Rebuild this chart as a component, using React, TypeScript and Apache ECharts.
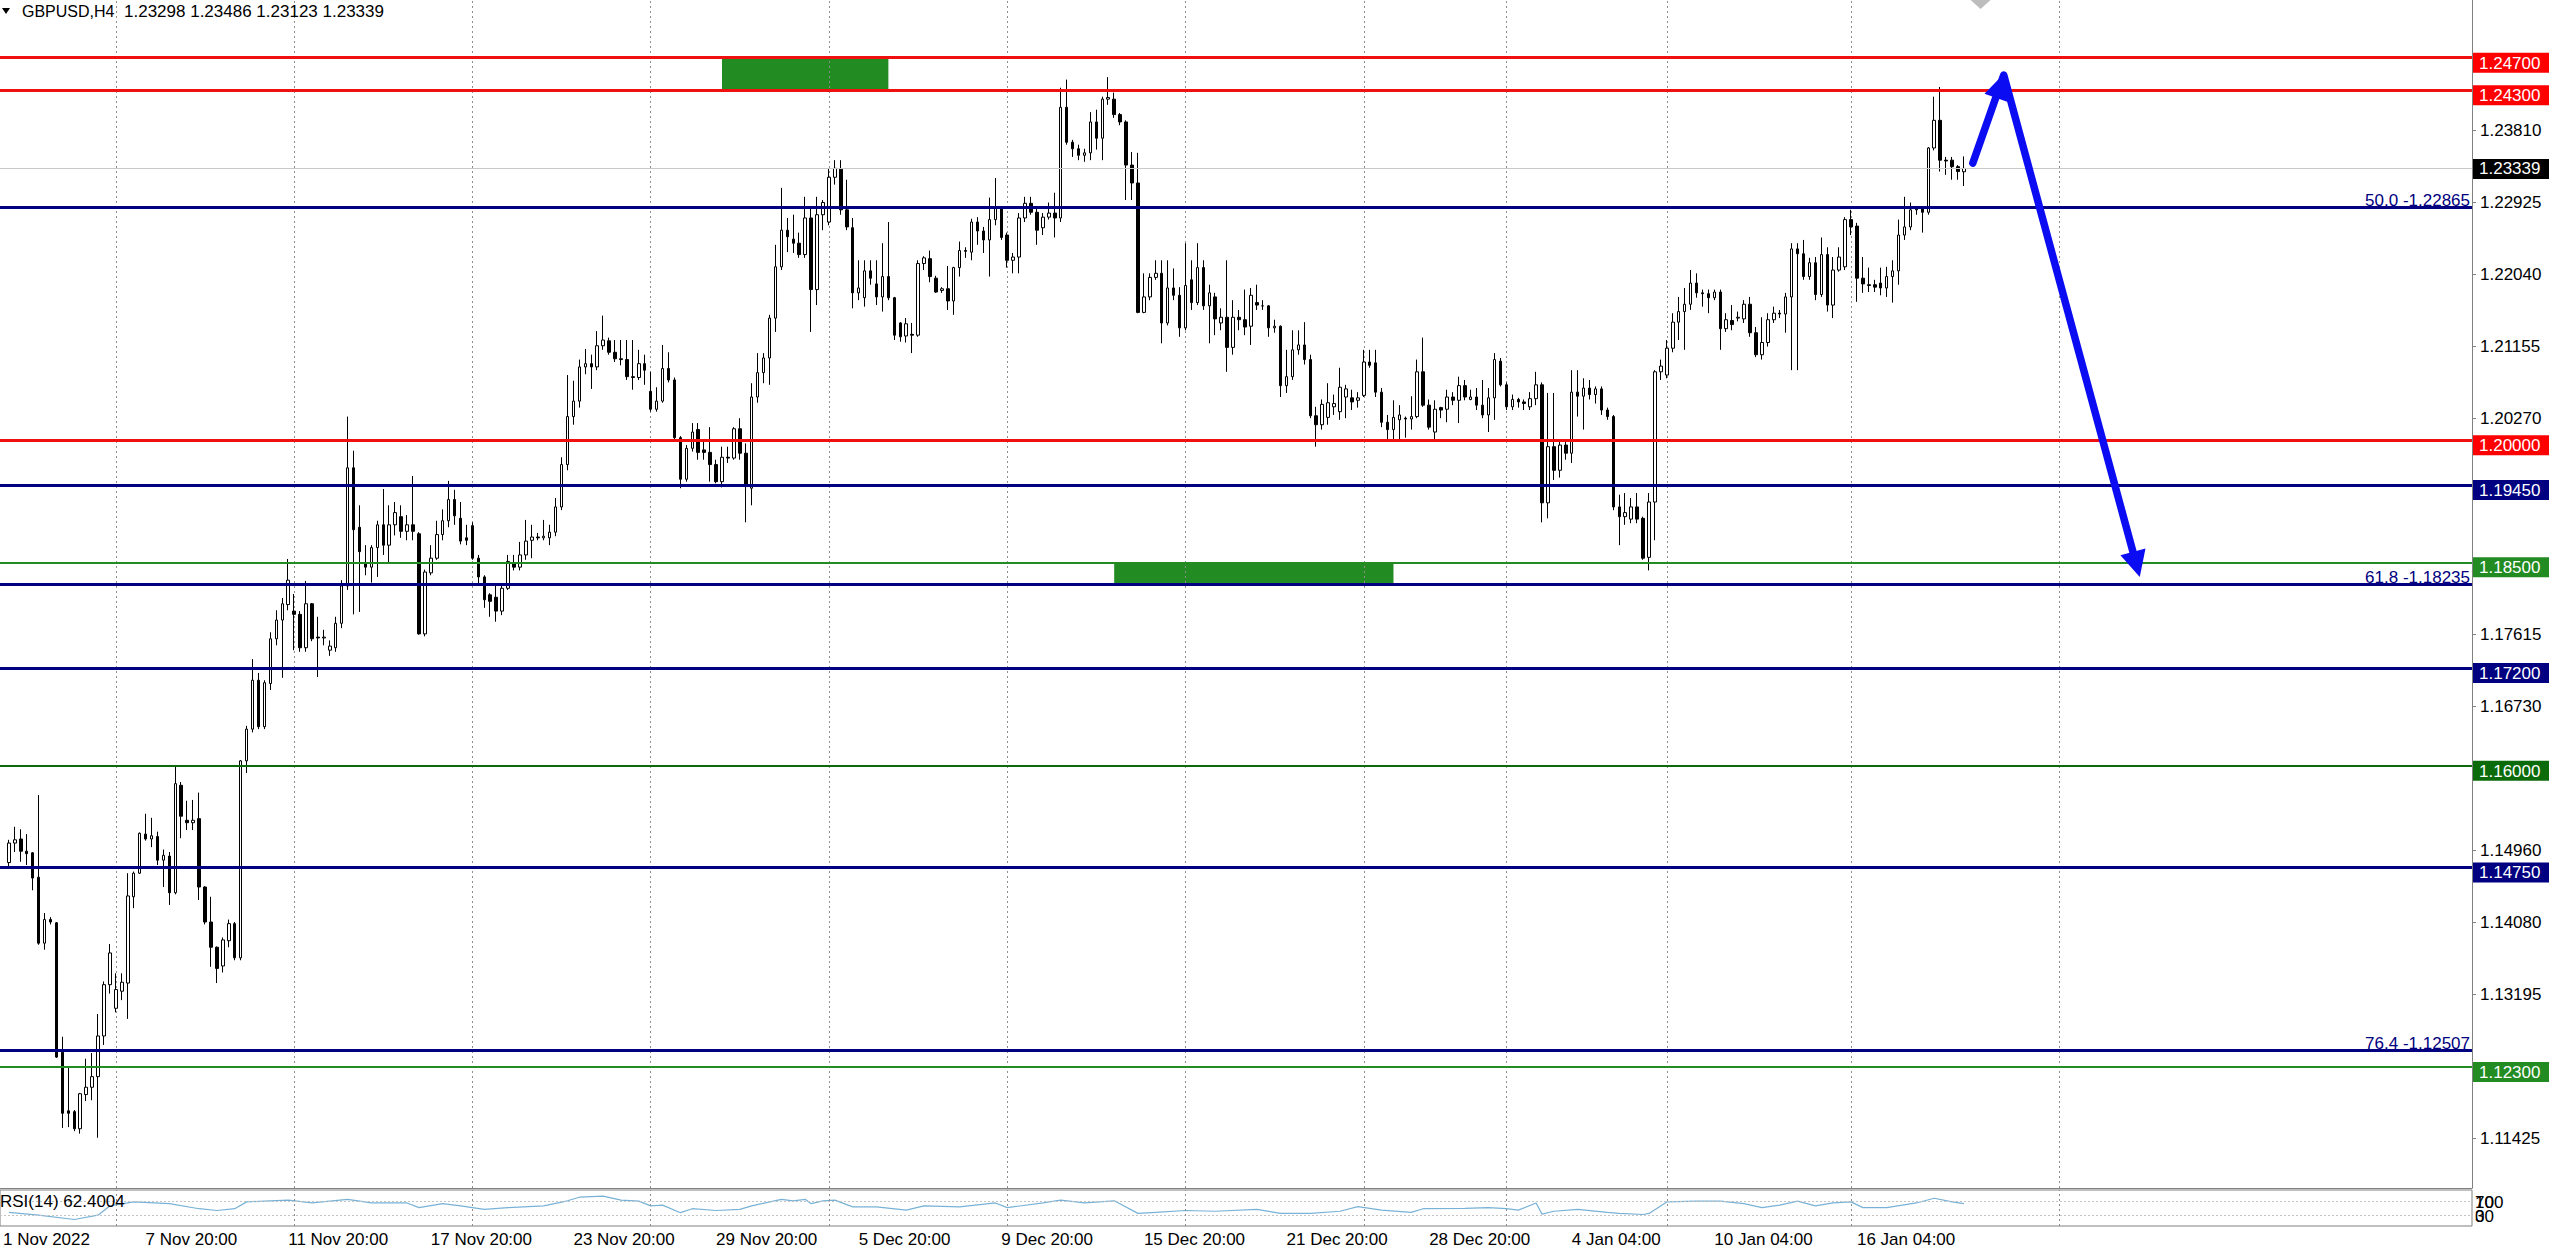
import React, { useEffect, useRef } from 'react';
import * as echarts from 'echarts';

const FONT = "'Liberation Sans', Arial, Helvetica, sans-serif";

const symbolTitle = 'GBPUSD,H4';
const lastBarQuote = '1.23298 1.23486 1.23123 1.23339';
const rsiTitle = 'RSI(14) 62.4004';

// H4 bars: [open, high, low, close]
const bars: [number, number, number, number][] = [
  [1.1481, 1.1509, 1.1476, 1.1505], [1.1505, 1.1525, 1.1494, 1.1509], [1.1510, 1.1522, 1.1482, 1.1495], [1.1495, 1.1516, 1.1478, 1.1492],
  [1.1493, 1.1494, 1.1447, 1.1462], [1.1463, 1.1564, 1.1380, 1.1382], [1.1382, 1.1419, 1.1374, 1.1411], [1.1411, 1.1414, 1.1405, 1.1408],
  [1.1407, 1.1408, 1.1241, 1.1242], [1.1248, 1.1267, 1.1155, 1.1173], [1.1176, 1.1229, 1.1156, 1.1173], [1.1175, 1.1177, 1.1151, 1.1154],
  [1.1154, 1.1198, 1.1148, 1.1197], [1.1196, 1.1240, 1.1188, 1.1205], [1.1205, 1.1247, 1.1189, 1.1218], [1.1218, 1.1295, 1.1143, 1.1268],
  [1.1268, 1.1335, 1.1257, 1.1331], [1.1331, 1.1381, 1.1320, 1.1370], [1.1302, 1.1345, 1.1297, 1.1325], [1.1323, 1.1345, 1.1312, 1.1334],
  [1.1333, 1.1468, 1.1289, 1.1440], [1.1439, 1.1470, 1.1425, 1.1468], [1.1468, 1.1518, 1.1467, 1.1517], [1.1516, 1.1541, 1.1508, 1.1510],
  [1.1510, 1.1536, 1.1500, 1.1514], [1.1513, 1.1519, 1.1478, 1.1484], [1.1484, 1.1497, 1.1451, 1.1490], [1.1489, 1.1494, 1.1429, 1.1444],
  [1.1444, 1.1600, 1.1442, 1.1578], [1.1576, 1.1580, 1.1511, 1.1538], [1.1533, 1.1557, 1.1521, 1.1530], [1.1530, 1.1558, 1.1521, 1.1533],
  [1.1535, 1.1567, 1.1435, 1.1451], [1.1451, 1.1452, 1.1405, 1.1408], [1.1408, 1.1439, 1.1353, 1.1377], [1.1377, 1.1378, 1.1333, 1.1351],
  [1.1354, 1.1389, 1.1346, 1.1386], [1.1385, 1.1411, 1.1377, 1.1406], [1.1406, 1.1408, 1.1361, 1.1364], [1.1364, 1.1607, 1.1361, 1.1606],
  [1.1606, 1.1649, 1.1591, 1.1645], [1.1645, 1.1731, 1.1641, 1.1705], [1.1705, 1.1714, 1.1645, 1.1648], [1.1648, 1.1705, 1.1645, 1.1702],
  [1.1701, 1.1764, 1.1693, 1.1756], [1.1756, 1.1791, 1.1748, 1.1779], [1.1779, 1.1806, 1.1708, 1.1799], [1.1798, 1.1854, 1.1791, 1.1828],
  [1.1790, 1.1811, 1.1742, 1.1786], [1.1786, 1.1790, 1.1740, 1.1745], [1.1745, 1.1827, 1.1740, 1.1799], [1.1799, 1.1800, 1.1753, 1.1756],
  [1.1758, 1.1783, 1.1709, 1.1757], [1.1757, 1.1767, 1.1748, 1.1758], [1.1742, 1.1754, 1.1735, 1.1747], [1.1745, 1.1783, 1.1740, 1.1775],
  [1.1775, 1.1828, 1.1769, 1.1821], [1.1821, 1.2029, 1.1816, 1.1966], [1.1966, 1.1987, 1.1786, 1.1890], [1.1893, 1.1920, 1.1789, 1.1863],
  [1.1849, 1.1871, 1.1834, 1.1844], [1.1844, 1.1871, 1.1825, 1.1868], [1.1868, 1.1901, 1.1832, 1.1896], [1.1896, 1.1940, 1.1859, 1.1871],
  [1.1871, 1.1920, 1.1850, 1.1896], [1.1896, 1.1924, 1.1883, 1.1911], [1.1906, 1.1920, 1.1880, 1.1888], [1.1888, 1.1908, 1.1877, 1.1896],
  [1.1896, 1.1956, 1.1877, 1.1888], [1.1885, 1.1887, 1.1761, 1.1762], [1.1762, 1.1841, 1.1759, 1.1838], [1.1837, 1.1871, 1.1834, 1.1855],
  [1.1855, 1.1901, 1.1853, 1.1884], [1.1884, 1.1915, 1.1877, 1.1901], [1.1901, 1.1950, 1.1893, 1.1927], [1.1927, 1.1939, 1.1896, 1.1907],
  [1.1904, 1.1924, 1.1872, 1.1876], [1.1880, 1.1896, 1.1871, 1.1877], [1.1895, 1.1899, 1.1853, 1.1855], [1.1855, 1.1859, 1.1822, 1.1832],
  [1.1832, 1.1834, 1.1794, 1.1804], [1.1810, 1.1812, 1.1783, 1.1802], [1.1807, 1.1824, 1.1777, 1.1790], [1.1790, 1.1822, 1.1785, 1.1818],
  [1.1818, 1.1859, 1.1816, 1.1851], [1.1849, 1.1859, 1.1840, 1.1844], [1.1844, 1.1875, 1.1840, 1.1859], [1.1859, 1.1902, 1.1853, 1.1876],
  [1.1877, 1.1896, 1.1855, 1.1881], [1.1881, 1.1886, 1.1877, 1.1880], [1.1880, 1.1902, 1.1877, 1.1882], [1.1880, 1.1896, 1.1871, 1.1887],
  [1.1887, 1.1929, 1.1882, 1.1918], [1.1918, 1.1979, 1.1914, 1.1970], [1.1970, 1.2080, 1.1963, 1.2029], [1.2029, 1.2073, 1.2019, 1.2048],
  [1.2048, 1.2099, 1.2040, 1.2090], [1.2090, 1.2112, 1.2081, 1.2094], [1.2094, 1.2105, 1.2063, 1.2090], [1.2090, 1.2134, 1.2086, 1.2116],
  [1.2116, 1.2153, 1.2111, 1.2123], [1.2122, 1.2126, 1.2105, 1.2108], [1.2108, 1.2123, 1.2096, 1.2100], [1.2100, 1.2123, 1.2092, 1.2099],
  [1.2099, 1.2123, 1.2074, 1.2078], [1.2078, 1.2123, 1.2062, 1.2077], [1.2077, 1.2111, 1.2074, 1.2094], [1.2094, 1.2105, 1.2068, 1.2086],
  [1.2060, 1.2084, 1.2035, 1.2038], [1.2038, 1.2065, 1.2035, 1.2048], [1.2048, 1.2117, 1.2046, 1.2088], [1.2088, 1.2108, 1.2071, 1.2074],
  [1.2074, 1.2077, 1.2000, 1.2003], [1.2003, 1.2005, 1.1941, 1.1952], [1.1952, 1.1994, 1.1949, 1.1990], [1.1990, 1.2021, 1.1986, 1.2010],
  [1.2013, 1.2021, 1.1976, 1.1985], [1.1988, 1.1998, 1.1976, 1.1985], [1.1985, 1.2016, 1.1949, 1.1970], [1.1970, 1.1976, 1.1947, 1.1949],
  [1.1949, 1.1992, 1.1942, 1.1979], [1.1979, 1.1992, 1.1972, 1.1978], [1.1978, 1.2016, 1.1976, 1.2014], [1.2014, 1.2027, 1.1976, 1.1984],
  [1.1984, 1.1996, 1.1899, 1.1943], [1.1941, 1.2070, 1.1920, 1.2053], [1.2053, 1.2107, 1.2046, 1.2083], [1.2083, 1.2107, 1.2070, 1.2101],
  [1.2101, 1.2154, 1.2068, 1.2150], [1.2150, 1.2240, 1.2133, 1.2213], [1.2213, 1.2310, 1.2209, 1.2258], [1.2258, 1.2273, 1.2231, 1.2250],
  [1.2247, 1.2277, 1.2230, 1.2242], [1.2242, 1.2255, 1.2224, 1.2228], [1.2228, 1.2299, 1.2224, 1.2273], [1.2273, 1.2287, 1.2133, 1.2185],
  [1.2185, 1.2299, 1.2166, 1.2277], [1.2277, 1.2295, 1.2258, 1.2292], [1.2268, 1.2334, 1.2264, 1.2323], [1.2323, 1.2344, 1.2314, 1.2334],
  [1.2333, 1.2344, 1.2277, 1.2283], [1.2283, 1.2320, 1.2258, 1.2262], [1.2261, 1.2273, 1.2162, 1.2181], [1.2181, 1.2221, 1.2172, 1.2187],
  [1.2175, 1.2221, 1.2164, 1.2208], [1.2208, 1.2221, 1.2191, 1.2199], [1.2192, 1.2221, 1.2166, 1.2176], [1.2176, 1.2242, 1.2158, 1.2201],
  [1.2201, 1.2268, 1.2172, 1.2175], [1.2175, 1.2176, 1.2123, 1.2129], [1.2144, 1.2145, 1.2121, 1.2127], [1.2128, 1.2150, 1.2120, 1.2143],
  [1.2130, 1.2144, 1.2107, 1.2129], [1.2129, 1.2221, 1.2127, 1.2217], [1.2217, 1.2226, 1.2209, 1.2224], [1.2223, 1.2233, 1.2194, 1.2201],
  [1.2199, 1.2202, 1.2181, 1.2182], [1.2184, 1.2188, 1.2181, 1.2186], [1.2186, 1.2214, 1.2160, 1.2171], [1.2171, 1.2213, 1.2154, 1.2212],
  [1.2212, 1.2244, 1.2201, 1.2233], [1.2233, 1.2237, 1.2224, 1.2232], [1.2231, 1.2272, 1.2221, 1.2268], [1.2268, 1.2274, 1.2240, 1.2257],
  [1.2257, 1.2262, 1.2230, 1.2246], [1.2246, 1.2298, 1.2201, 1.2271], [1.2271, 1.2322, 1.2264, 1.2285], [1.2285, 1.2287, 1.2246, 1.2249],
  [1.2252, 1.2255, 1.2212, 1.2221], [1.2221, 1.2230, 1.2205, 1.2225], [1.2225, 1.2279, 1.2205, 1.2273], [1.2273, 1.2299, 1.2268, 1.2291],
  [1.2291, 1.2299, 1.2277, 1.2280], [1.2280, 1.2287, 1.2240, 1.2258], [1.2261, 1.2279, 1.2252, 1.2274], [1.2274, 1.2292, 1.2271, 1.2279],
  [1.2279, 1.2304, 1.2249, 1.2273], [1.2273, 1.2433, 1.2268, 1.2409], [1.2409, 1.2443, 1.2363, 1.2366], [1.2366, 1.2369, 1.2348, 1.2358],
  [1.2358, 1.2363, 1.2344, 1.2350], [1.2350, 1.2358, 1.2342, 1.2353], [1.2353, 1.2403, 1.2344, 1.2391], [1.2391, 1.2406, 1.2357, 1.2371],
  [1.2371, 1.2422, 1.2344, 1.2419], [1.2419, 1.2446, 1.2412, 1.2421], [1.2419, 1.2427, 1.2396, 1.2400], [1.2400, 1.2402, 1.2387, 1.2391],
  [1.2391, 1.2393, 1.2295, 1.2338], [1.2338, 1.2354, 1.2295, 1.2316], [1.2316, 1.2353, 1.2156, 1.2157], [1.2157, 1.2205, 1.2156, 1.2176],
  [1.2176, 1.2205, 1.2172, 1.2200], [1.2200, 1.2221, 1.2197, 1.2205], [1.2205, 1.2221, 1.2119, 1.2144], [1.2144, 1.2221, 1.2141, 1.2187],
  [1.2187, 1.2211, 1.2172, 1.2178], [1.2178, 1.2188, 1.2127, 1.2138], [1.2138, 1.2242, 1.2135, 1.2190], [1.2197, 1.2221, 1.2160, 1.2169],
  [1.2169, 1.2242, 1.2166, 1.2212], [1.2212, 1.2221, 1.2160, 1.2165], [1.2165, 1.2191, 1.2119, 1.2181], [1.2176, 1.2181, 1.2129, 1.2149],
  [1.2144, 1.2162, 1.2135, 1.2151], [1.2151, 1.2221, 1.2084, 1.2114], [1.2114, 1.2172, 1.2105, 1.2151], [1.2151, 1.2160, 1.2135, 1.2148],
  [1.2148, 1.2185, 1.2129, 1.2139], [1.2140, 1.2187, 1.2117, 1.2178], [1.2169, 1.2191, 1.2160, 1.2166], [1.2165, 1.2172, 1.2160, 1.2165],
  [1.2165, 1.2166, 1.2127, 1.2138], [1.2138, 1.2148, 1.2132, 1.2140], [1.2140, 1.2141, 1.2053, 1.2067], [1.2067, 1.2111, 1.2058, 1.2078],
  [1.2078, 1.2135, 1.2074, 1.2111], [1.2111, 1.2135, 1.2105, 1.2117], [1.2117, 1.2145, 1.2093, 1.2099], [1.2099, 1.2105, 1.2027, 1.2030],
  [1.2030, 1.2041, 1.1992, 1.2019], [1.2019, 1.2050, 1.2013, 1.2044], [1.2028, 1.2070, 1.2019, 1.2046], [1.2041, 1.2056, 1.2031, 1.2045],
  [1.2035, 1.2089, 1.2025, 1.2065], [1.2053, 1.2068, 1.2027, 1.2063], [1.2052, 1.2062, 1.2037, 1.2047], [1.2049, 1.2059, 1.2040, 1.2052],
  [1.2055, 1.2111, 1.2053, 1.2096], [1.2096, 1.2111, 1.2089, 1.2092], [1.2095, 1.2111, 1.2053, 1.2059], [1.2059, 1.2064, 1.2016, 1.2022],
  [1.2022, 1.2031, 1.2000, 1.2013], [1.2013, 1.2049, 1.2000, 1.2028], [1.2025, 1.2043, 1.2000, 1.2031], [1.2027, 1.2029, 1.2003, 1.2026],
  [1.2026, 1.2054, 1.2013, 1.2029], [1.2029, 1.2099, 1.2027, 1.2084], [1.2084, 1.2126, 1.2041, 1.2043], [1.2043, 1.2050, 1.2013, 1.2016],
  [1.2010, 1.2049, 1.2000, 1.2038], [1.2040, 1.2041, 1.2027, 1.2037], [1.2038, 1.2062, 1.2022, 1.2053], [1.2053, 1.2059, 1.2043, 1.2049],
  [1.2049, 1.2078, 1.2021, 1.2067], [1.2067, 1.2074, 1.2049, 1.2053], [1.2050, 1.2062, 1.2049, 1.2053], [1.2053, 1.2064, 1.2037, 1.2043],
  [1.2043, 1.2074, 1.2027, 1.2031], [1.2031, 1.2064, 1.2010, 1.2052], [1.2052, 1.2107, 1.2025, 1.2099], [1.2097, 1.2101, 1.2066, 1.2068],
  [1.2068, 1.2071, 1.2037, 1.2041], [1.2041, 1.2056, 1.2037, 1.2050], [1.2050, 1.2052, 1.2040, 1.2047], [1.2047, 1.2050, 1.2037, 1.2045],
  [1.2041, 1.2059, 1.2037, 1.2051], [1.2051, 1.2084, 1.2043, 1.2068], [1.2068, 1.2071, 1.1899, 1.1923], [1.1923, 1.2058, 1.1904, 1.1992],
  [1.1992, 1.2058, 1.1951, 1.1963], [1.1963, 1.2000, 1.1954, 1.1994], [1.1994, 1.2000, 1.1976, 1.1984], [1.1984, 1.2086, 1.1972, 1.2059],
  [1.2059, 1.2086, 1.2029, 1.2054], [1.2054, 1.2076, 1.2013, 1.2064], [1.2064, 1.2074, 1.2050, 1.2056], [1.2056, 1.2066, 1.2045, 1.2063],
  [1.2063, 1.2066, 1.2031, 1.2037], [1.2037, 1.2040, 1.2025, 1.2029], [1.2029, 1.2031, 1.1914, 1.1918], [1.1918, 1.1933, 1.1871, 1.1906],
  [1.1906, 1.1935, 1.1896, 1.1911], [1.1903, 1.1929, 1.1898, 1.1918], [1.1918, 1.1935, 1.1898, 1.1903], [1.1904, 1.1906, 1.1853, 1.1855],
  [1.1856, 1.1935, 1.1840, 1.1924], [1.1924, 1.2086, 1.1877, 1.2084], [1.2084, 1.2099, 1.2074, 1.2091], [1.2080, 1.2123, 1.2076, 1.2113],
  [1.2113, 1.2156, 1.2108, 1.2145], [1.2145, 1.2176, 1.2123, 1.2158], [1.2158, 1.2187, 1.2111, 1.2167], [1.2167, 1.2209, 1.2160, 1.2193],
  [1.2193, 1.2205, 1.2175, 1.2181], [1.2181, 1.2185, 1.2164, 1.2180], [1.2180, 1.2185, 1.2156, 1.2175], [1.2175, 1.2185, 1.2172, 1.2182],
  [1.2182, 1.2185, 1.2111, 1.2137], [1.2137, 1.2156, 1.2133, 1.2148], [1.2147, 1.2166, 1.2135, 1.2142], [1.2150, 1.2158, 1.2146, 1.2151],
  [1.2149, 1.2172, 1.2144, 1.2167], [1.2167, 1.2176, 1.2127, 1.2132], [1.2132, 1.2139, 1.2102, 1.2105], [1.2105, 1.2151, 1.2099, 1.2120],
  [1.2120, 1.2156, 1.2115, 1.2148], [1.2148, 1.2164, 1.2144, 1.2156], [1.2156, 1.2160, 1.2150, 1.2155], [1.2155, 1.2181, 1.2132, 1.2176],
  [1.2176, 1.2242, 1.2086, 1.2235], [1.2235, 1.2242, 1.2086, 1.2229], [1.2229, 1.2246, 1.2197, 1.2201], [1.2201, 1.2224, 1.2197, 1.2218],
  [1.2218, 1.2225, 1.2172, 1.2179], [1.2179, 1.2249, 1.2176, 1.2228], [1.2228, 1.2237, 1.2158, 1.2166], [1.2166, 1.2225, 1.2150, 1.2209],
  [1.2209, 1.2237, 1.2207, 1.2225], [1.2213, 1.2274, 1.2209, 1.2271], [1.2271, 1.2283, 1.2252, 1.2262], [1.2263, 1.2267, 1.2170, 1.2199],
  [1.2199, 1.2225, 1.2181, 1.2192], [1.2191, 1.2212, 1.2182, 1.2190], [1.2191, 1.2197, 1.2182, 1.2188], [1.2193, 1.2212, 1.2178, 1.2187],
  [1.2187, 1.2213, 1.2176, 1.2201], [1.2201, 1.2221, 1.2169, 1.2208], [1.2208, 1.2271, 1.2191, 1.2252], [1.2252, 1.2299, 1.2246, 1.2262],
  [1.2262, 1.2292, 1.2258, 1.2283], [1.2283, 1.2287, 1.2277, 1.2284], [1.2285, 1.2287, 1.2255, 1.2280], [1.2280, 1.2360, 1.2277, 1.2359],
  [1.2359, 1.2422, 1.2356, 1.2393], [1.2393, 1.2434, 1.2330, 1.2344], [1.2344, 1.2348, 1.2326, 1.2343], [1.2344, 1.2348, 1.2320, 1.2336],
  [1.2336, 1.2338, 1.2320, 1.2330], [1.23298, 1.23486, 1.23123, 1.23339],
];

// time axis labels: [bar index, text]
const timeLabels: [number, string][] = [
  [-1, '1 Nov 2022'], [23, '7 Nov 20:00'], [47, '11 Nov 20:00'], [71, '17 Nov 20:00'], [95, '23 Nov 20:00'],
  [119, '29 Nov 20:00'], [143, '5 Dec 20:00'], [167, '9 Dec 20:00'], [191, '15 Dec 20:00'], [215, '21 Dec 20:00'],
  [239, '28 Dec 20:00'], [263, '4 Jan 04:00'], [287, '10 Jan 04:00'], [311, '16 Jan 04:00'],
];
// vertical dotted grid (week starts), bar indices
const weekSeparators = [18, 48, 78, 108, 138, 168, 198, 228, 252, 279, 310, 345];
// price scale labels
const priceTicks = [1.2381, 1.22925, 1.2204, 1.21155, 1.2027, 1.17615, 1.1673, 1.1496, 1.1408, 1.13195, 1.11425];
const priceMin = 1.10812;
const priceMax = 1.25408;

// horizontal levels
const levels: { price: number; kind: string }[] = [
  { price: 1.247, kind: 'red' }, { price: 1.243, kind: 'red' }, { price: 1.2, kind: 'red' },
  { price: 1.1945, kind: 'navy' }, { price: 1.185, kind: 'green' }, { price: 1.172, kind: 'navy' },
  { price: 1.16, kind: 'darkgreen' }, { price: 1.1475, kind: 'navy' }, { price: 1.123, kind: 'green' },
];
const fibLevels: { ratio: string; price: number }[] = [
  { ratio: '50.0', price: 1.22865 }, { ratio: '61.8', price: 1.18235 }, { ratio: '76.4', price: 1.12507 },
];
const zones: { fromBar: number; toBar: number; top: number; bottom: number }[] = [
  { fromBar: 120, toBar: 148, top: 1.247, bottom: 1.243 },
  { fromBar: 186, toBar: 233, top: 1.185, bottom: 1.18235 },
];
const bidPrice = 1.23339;

// RSI(14): [bar index, value]
const rsiPoints: [number, number][] = [
  [0, 38], [5, 30], [11, 18], [15, 30], [17, 56], [21, 67], [27, 62], [32, 48], [35, 43], [38, 48], [40, 67], [44, 70],
  [47, 72], [51, 64], [57, 74], [61, 64], [67, 64], [69, 51], [73, 62], [76, 56], [80, 46], [84, 51], [90, 56], [94, 70],
  [96, 80], [100, 83], [103, 72], [106, 69], [108, 56], [110, 58], [113, 37], [115, 48], [119, 43], [123, 46], [125, 56],
  [130, 74], [132, 70], [134, 74], [135, 62], [137, 70], [139, 72], [142, 53], [146, 53], [151, 44], [154, 56], [160, 53],
  [166, 64], [168, 51], [174, 64], [177, 72], [181, 64], [186, 70], [190, 35], [193, 38], [198, 43], [203, 41], [210, 46],
  [214, 35], [219, 35], [224, 41], [227, 54], [231, 44], [236, 38], [238, 48], [245, 49], [249, 51], [252, 48], [254, 44],
  [257, 64], [258, 33], [260, 41], [264, 46], [269, 38], [271, 35], [275, 32], [276, 35], [279, 67], [284, 69], [288, 69],
  [292, 62], [295, 51], [298, 58], [301, 69], [304, 56], [307, 64], [310, 67], [312, 51], [316, 51], [321, 64], [324, 77],
  [327, 67], [329, 62.4],
];
const rsiLevels = [70, 30];
const rsiScaleLabels: [string, number][] = [['100', 70], ['70', 70], ['30', 30], ['0', 30]];

// drawn forecast arrow: [bar index, price]
const forecastPath: [number, number][] = [[330.5, 1.23404], [335.7, 1.24486], [358.5, 1.18343]];

const SLOTS = 416;
const COLORS: Record<string, { line: string; box: string; width: number }> = {
  red: { line: '#f01010', box: '#ff0000', width: 3 },
  navy: { line: '#000080', box: '#000080', width: 3 },
  green: { line: '#228b22', box: '#228b22', width: 2 },
  darkgreen: { line: '#0b6b0b', box: '#0b6b0b', width: 2 },
};

export default function App() {
  const ref = useRef<HTMLDivElement>(null);

  useEffect(() => {
    const el = ref.current as HTMLDivElement;
    const chart = echarts.init(el, undefined, { renderer: 'svg', width: 2560, height: 1253 });

    const cats = Array.from({ length: SLOTS }, (_, i) => String(i));
    const candleData: any[] = ['-'];
    bars.forEach(([o, h, l, c]) => candleData.push([o, c, l, h]));
    const labelMap = new Map<number, string>();
    timeLabels.forEach(([b, t]) => labelMap.set(b + 1, t));

    const vLines = weekSeparators.map((b) => ({ xAxis: b + 1 }));
    const titleStyle = (size: number) => ({ fontSize: size, fontWeight: 'normal', color: '#000', fontFamily: FONT });

    const option: any = {
      animation: false,
      backgroundColor: '#ffffff',
      textStyle: { fontFamily: FONT },
      title: [
        { text: symbolTitle, left: 22, top: 3, padding: 0, textStyle: titleStyle(16) },
        { text: lastBarQuote, left: 124, top: 3, padding: 0, textStyle: titleStyle(17) },
        { text: rsiTitle, left: 0, top: 1193, padding: 0, textStyle: titleStyle(17) },
      ],
      grid: [
        { left: -4, right: 88, top: 0, height: 1188 },
        { left: -4, right: 88, top: 1190, height: 36, show: true, borderColor: '#808080', borderWidth: 1, backgroundColor: 'transparent' },
      ],
      xAxis: [
        {
          type: 'category', gridIndex: 0, data: cats, boundaryGap: true,
          axisLine: { show: true, lineStyle: { color: '#808080', width: 1 } },
          axisTick: { show: false }, axisLabel: { show: false }, splitLine: { show: false },
        },
        {
          type: 'category', gridIndex: 1, data: cats, boundaryGap: true,
          axisLine: { show: false }, axisTick: { show: false }, splitLine: { show: false },
          axisLabel: {
            show: true,
            interval: (i: number) => labelMap.has(i),
            formatter: (_v: string, i: number) => labelMap.get(i) || '',
            align: 'left', margin: 5, fontSize: 17, color: '#000', fontFamily: FONT,
          },
        },
      ],
      yAxis: [
        {
          type: 'value', gridIndex: 0, position: 'right', min: priceMin, max: priceMax,
          axisLine: { show: true, lineStyle: { color: '#808080', width: 1 } },
          axisTick: { show: true, length: 4, customValues: priceTicks, lineStyle: { color: '#808080' } },
          axisLabel: {
            show: true, customValues: priceTicks, formatter: (v: number) => v.toFixed(5),
            margin: 8, fontSize: 17, color: '#000', fontFamily: FONT,
          },
          splitLine: { show: false },
        },
        {
          type: 'value', gridIndex: 1, position: 'right', min: 0, max: 100,
          axisLine: { show: false }, axisTick: { show: false }, axisLabel: { show: false }, splitLine: { show: false },
        },
      ],
      series: [
        {
          name: 'grid', type: 'line', xAxisIndex: 0, yAxisIndex: 0, data: [], silent: true, z: 1,
          markLine: {
            silent: true, symbol: ['none', 'none'], label: { show: false }, z: 1, precision: 6,
            lineStyle: { color: '#8e8e8e', type: [2, 3], width: 1 },
            emphasis: { disabled: true },
            data: vLines,
          },
        },
        {
          name: 'GBPUSD', type: 'candlestick', xAxisIndex: 0, yAxisIndex: 0, data: candleData, z: 2,
          barWidth: 3,
          itemStyle: {
            color: '#ffffff', color0: '#000000', borderColor: '#000000', borderColor0: '#000000',
            borderColorDoji: '#000000', borderWidth: 1,
          },
          markArea: {
            silent: true, precision: 6,
            itemStyle: { color: '#228b22', opacity: 1 },
            data: zones.map((z) => [
              { xAxis: z.fromBar + 1, yAxis: z.top },
              { xAxis: z.toBar + 1, yAxis: z.bottom },
            ]),
          },
        },
        {
          name: 'levels', type: 'line', xAxisIndex: 0, yAxisIndex: 0, data: [], silent: true, z: 3,
          markLine: {
            silent: true, symbol: ['none', 'none'], label: { show: false }, precision: 6,
            emphasis: { disabled: true },
            data: [
              { yAxis: bidPrice, lineStyle: { color: '#c8c8c8', width: 1, type: 'solid' } },
              ...levels.map((l) => ({ yAxis: l.price, lineStyle: { color: COLORS[l.kind].line, width: COLORS[l.kind].width, type: 'solid' } })),
              ...fibLevels.map((f) => ({ yAxis: f.price, lineStyle: { color: '#000080', width: 3, type: 'solid' } })),
            ],
          },
        },
        {
          name: 'RSI', type: 'line', xAxisIndex: 1, yAxisIndex: 1,
          data: rsiPoints.map(([b, v]) => [b + 1, v]),
          showSymbol: false, symbol: 'none', smooth: false,
          lineStyle: { color: '#78b2d6', width: 1.2 },
          markLine: {
            silent: true, symbol: ['none', 'none'], label: { show: false }, precision: 6,
            emphasis: { disabled: true },
            data: [
              ...rsiLevels.map((v) => ({ yAxis: v, lineStyle: { color: '#c4c4c4', type: [2, 2], width: 1 } })),
              ...vLines.map((d) => ({ ...d, lineStyle: { color: '#8e8e8e', type: [2, 3], width: 1 } })),
            ],
          },
        },
      ],
    };

    chart.setOption(option);

    const a = chart.convertToPixel({ gridIndex: 0 }, [0, priceMax]) as number[];
    const b = chart.convertToPixel({ gridIndex: 0 }, [100, priceMax]) as number[];
    const slot = (b[0] - a[0]) / 100;
    const xPx = (bar: number) => a[0] + (bar + 1) * slot;
    const yPx = (p: number) => (chart.convertToPixel({ gridIndex: 0 }, [0, p]) as number[])[1];
    const rsiY = (v: number) => (chart.convertToPixel({ gridIndex: 1 }, [0, v]) as number[])[1];
    const plotRight = 2472;
    const txt = (size: number, fill: string, align: string, verticalAlign: string) => ({
      fontSize: size, fontFamily: FONT, fontWeight: 'normal', fill, align, verticalAlign,
    });

    const els: any[] = [];
    // header marker
    els.push({ type: 'polygon', z: 100, shape: { points: [[2, 8], [10, 8], [6, 14]] }, style: { fill: '#000' } });

    // level boxes on the price scale
    levels.forEach((l) => {
      const y = yPx(l.price);
      els.push({ type: 'rect', z: 100, shape: { x: plotRight + 1, y: y - 5, width: 76, height: 20 }, style: { fill: COLORS[l.kind].box } });
      els.push({ type: 'text', z: 101, x: plotRight + 7, y: y + 5.5, style: { text: l.price.toFixed(5), ...txt(17, '#fff', 'left', 'middle') } });
    });
    {
      const y = yPx(bidPrice);
      els.push({ type: 'rect', z: 100, shape: { x: plotRight + 1, y: y - 9.5, width: 76, height: 20 }, style: { fill: '#000' } });
      els.push({ type: 'text', z: 101, x: plotRight + 7, y: y + 0.5, style: { text: bidPrice.toFixed(5), ...txt(17, '#fff', 'left', 'middle') } });
    }
    // fibo texts
    fibLevels.forEach((f) => {
      const y = yPx(f.price);
      els.push({ type: 'text', z: 100, x: plotRight - 2, y: y + 2, style: { text: `${f.ratio} -${f.price.toFixed(5)}`, ...txt(17, '#000080', 'right', 'bottom') } });
    });
    // RSI scale labels
    rsiScaleLabels.forEach(([t, v]) => {
      els.push({ type: 'text', z: 100, x: plotRight + 3, y: rsiY(v) + 1.5, style: { text: t, ...txt(17, '#000', 'left', 'middle') } });
    });

    // forecast arrow
    const pts = forecastPath.map(([bar, p]) => [xPx(bar), yPx(p)]);
    const head = (from: number[], tip: number[], L: number, Wd: number) => {
      const dx = tip[0] - from[0];
      const dy = tip[1] - from[1];
      const len = Math.hypot(dx, dy);
      const ux = dx / len;
      const uy = dy / len;
      const t = [tip[0] + ux * 2, tip[1] + uy * 2];
      const bx = t[0] - ux * L;
      const by = t[1] - uy * L;
      return [t, [bx - uy * Wd, by + ux * Wd], [bx + uy * Wd, by - ux * Wd]];
    };
    const endDir = [pts[2][0] - pts[1][0], pts[2][1] - pts[1][1]];
    const endLen = Math.hypot(endDir[0], endDir[1]);
    const lineEnd = [pts[2][0] - (endDir[0] / endLen) * 14, pts[2][1] - (endDir[1] / endLen) * 14];
    els.push({
      type: 'polyline', z: 110,
      shape: { points: [pts[0], pts[1], lineEnd] },
      style: { stroke: '#0c0cf2', lineWidth: 7.5, fill: 'none', lineJoin: 'round', lineCap: 'round' },
    });
    els.push({ type: 'polygon', z: 111, shape: { points: head(pts[0], pts[1], 26, 12) }, style: { fill: '#0c0cf2' } });
    els.push({ type: 'polygon', z: 111, shape: { points: head(pts[1], pts[2], 26, 13) }, style: { fill: '#0c0cf2' } });

    // chart shift marker
    const sx = xPx(331.8);
    els.push({ type: 'polygon', z: 100, shape: { points: [[sx - 10, 0], [sx + 10, 0], [sx, 9]] }, style: { fill: '#bdbdbd' } });

    chart.setOption({ graphic: { elements: els } });

    return () => {
      chart.dispose();
    };
  }, []);

  return (
    <div
      ref={ref}
      style={{ position: 'fixed', left: 0, top: 0, width: 2560, height: 1253, background: '#ffffff' }}
    />
  );
}
